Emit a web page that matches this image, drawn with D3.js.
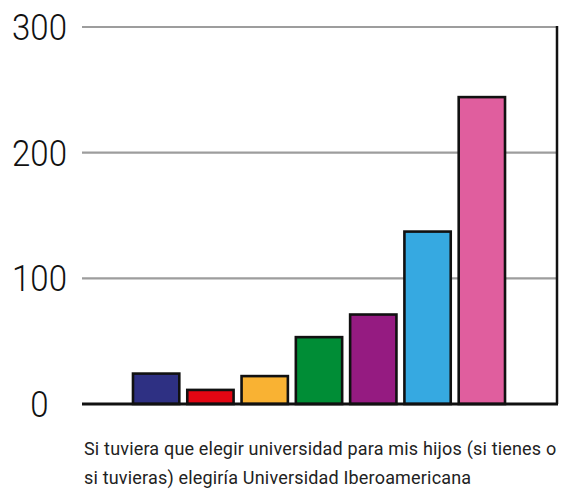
<!DOCTYPE html>
<html>
<head>
<meta charset="utf-8">
<script src="https://cdn.jsdelivr.net/npm/d3@7"></script>
<style>
  html, body { margin: 0; padding: 0; background: #fff; }
  svg { display: block; }
</style>
</head>
<body>
<div id="chart"></div>
<script>
'use strict';

// bar values, left to right
var categories = ['a', 'b', 'c', 'd', 'e', 'f', 'g'];
var values = [25, 12, 23, 54, 72, 138, 245];
var colors = ['#2e3083', '#e30613', '#f9b233', '#008d36', '#951b81', '#36a9e1', '#e05e9e'];
var yTicks = [0, 100, 200, 300];
var captionLines = [
  'Si tuviera que elegir universidad para mis hijos (si tienes o',
  'si tuvieras) elegiría Universidad Iberoamericana'
];

(function () {
  var width = 578, height = 496;
  var plotLeft = 82, plotRight = 557, plotTop = 27, plotBottom = 404;

  var svg = d3.select('#chart').append('svg')
    .attr('width', width)
    .attr('height', height);

  var x = d3.scaleBand()
    .domain(categories)
    .range([129, 509])
    .paddingInner(0.11)
    .paddingOuter(0.055);

  var y = d3.scaleLinear()
    .domain([0, 300])
    .range([plotBottom, plotTop]);

  // gridlines
  svg.append('g')
    .selectAll('line')
    .data(yTicks.filter(function (d) { return d > 0; }))
    .join('line')
    .attr('x1', plotLeft)
    .attr('x2', plotRight)
    .attr('y1', function (d) { return y(d); })
    .attr('y2', function (d) { return y(d); })
    .attr('stroke', '#9d9d9d')
    .attr('stroke-width', 2.2);

  // bars
  svg.append('g')
    .selectAll('rect')
    .data(values)
    .join('rect')
    .attr('x', function (d, i) { return x(categories[i]) + 1; })
    .attr('y', function (d) { return y(d) + 1; })
    .attr('width', x.bandwidth() - 2)
    .attr('height', function (d) { return plotBottom - y(d) - 1; })
    .attr('fill', function (d, i) { return colors[i]; })
    .attr('stroke', '#111')
    .attr('stroke-width', 2.6);

  // right border and baseline
  svg.append('line')
    .attr('x1', plotRight).attr('x2', plotRight)
    .attr('y1', plotTop - 1).attr('y2', plotBottom)
    .attr('stroke', '#111')
    .attr('stroke-width', 2.5);

  svg.append('line')
    .attr('x1', plotLeft).attr('x2', plotRight + 1)
    .attr('y1', plotBottom).attr('y2', plotBottom)
    .attr('stroke', '#111')
    .attr('stroke-width', 2.8);

  // y tick labels, centered on the gridlines
  svg.append('g')
    .selectAll('text')
    .data(yTicks)
    .join('text')
    .attr('x', 39.5)
    .attr('y', function (d) { return y(d); })
    .attr('dy', '0.36em')
    .attr('text-anchor', 'middle')
    .attr('font-family', 'Roboto, sans-serif')
    .attr('font-weight', 300)
    .attr('font-size', 36)
    .attr('fill', '#111')
    .attr('textLength', function (d) { return String(d).length * 18.3; })
    .attr('lengthAdjust', 'spacingAndGlyphs')
    .text(function (d) { return d; });

  // caption
  svg.append('g')
    .selectAll('text')
    .data(captionLines)
    .join('text')
    .attr('x', 84)
    .attr('y', function (d, i) { return 455 + i * 29; })
    .attr('font-family', 'Roboto, sans-serif')
    .attr('font-size', 18)
    .attr('letter-spacing', 0.18)
    .attr('fill', '#222')
    .text(function (d) { return d; });
})();
</script>
</body>
</html>
